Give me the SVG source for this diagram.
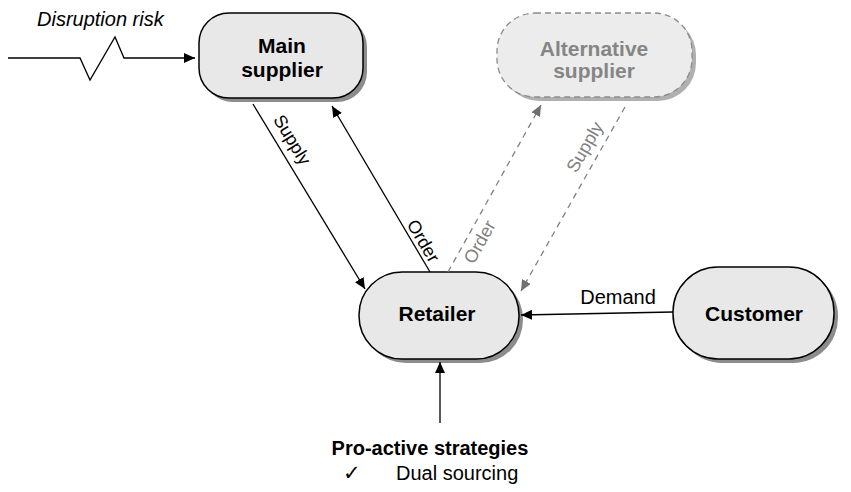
<svg xmlns="http://www.w3.org/2000/svg" width="851" height="492" viewBox="0 0 851 492">
  <style>
    text { font-family: "Liberation Sans", Arial, sans-serif; fill: #000; }
    .node { fill: #e8e8e8; stroke: #000; stroke-width: 1.5; }
    .shadow { fill: #8c8c8c; stroke: none; }
    .alt { fill: #ececec; stroke: #8c8c8c; stroke-width: 1.3; stroke-dasharray: 6 4; }
    .altshadow { fill: #b0b0b0; stroke: none; }
    .label { font-size: 21px; font-weight: bold; text-anchor: middle; }
    .altlabel { font-size: 21px; font-weight: bold; text-anchor: middle; fill: #858585; }
    .edge { fill: none; stroke: #000; stroke-width: 1.3; }
    .dashed { fill: none; stroke: #808080; stroke-width: 1.3; stroke-dasharray: 6 5; }
    .elabel { font-size: 18px; text-anchor: middle; }
    .glabel { font-size: 18px; text-anchor: middle; fill: #808080; }
  </style>
  <defs>
    <marker id="arrow" markerUnits="userSpaceOnUse" markerWidth="12" markerHeight="10" refX="11" refY="5" orient="auto">
      <path d="M0,0 L11,5 L0,10 z" fill="#000"/>
    </marker>
    <marker id="arrowGray" markerUnits="userSpaceOnUse" markerWidth="12" markerHeight="10" refX="11" refY="5" orient="auto">
      <path d="M0,0 L11,5 L0,10 z" fill="#707070"/>
    </marker>
  </defs>

  <!-- nodes -->
  <g id="main-supplier">
    <rect class="shadow" x="203" y="17" width="164" height="85" rx="30"/>
    <rect class="node" x="199" y="13" width="164" height="85" rx="30"/>
    <text class="label" x="282" y="53">Main</text>
    <text class="label" x="282" y="77">supplier</text>
  </g>

  <g id="alternative-supplier">
    <rect class="altshadow" x="501" y="17" width="195" height="84" rx="38"/>
    <rect class="alt" x="497" y="13" width="195" height="84" rx="38"/>
    <text class="altlabel" x="594" y="56">Alternative</text>
    <text class="altlabel" x="594" y="78">supplier</text>
  </g>

  <g id="retailer">
    <rect class="shadow" x="363" y="276" width="160" height="87" rx="43"/>
    <rect class="node" x="359" y="272" width="160" height="87" rx="43"/>
    <text class="label" x="437" y="321">Retailer</text>
  </g>

  <g id="customer">
    <rect class="shadow" x="677" y="271" width="161" height="92" rx="45"/>
    <rect class="node" x="673" y="267" width="161" height="92" rx="45"/>
    <text class="label" x="754" y="321">Customer</text>
  </g>

  <!-- connectors -->
  <g id="connectors">
    <!-- disruption risk feeding the main supplier -->
    <polyline class="edge" points="8,58 80,58 90,80 115,37 124,58 195,58" marker-end="url(#arrow)"/>
    <text x="37" y="26" style="font-size:20px; font-style:italic;">Disruption risk</text>

    <!-- main supplier <-> retailer -->
    <line class="edge" x1="253" y1="104" x2="365" y2="289" marker-end="url(#arrow)"/>
    <text class="elabel" transform="translate(287,143) rotate(58.7)">Supply</text>

    <line class="edge" x1="430" y1="272" x2="332" y2="106" marker-end="url(#arrow)"/>
    <text class="elabel" transform="translate(418,244) rotate(59.5)">Order</text>

    <!-- alternative supplier <-> retailer (dashed) -->
    <line class="dashed" x1="448" y1="272" x2="541" y2="105" marker-end="url(#arrowGray)"/>
    <text class="glabel" transform="translate(485,245) rotate(-61)">Order</text>

    <line class="dashed" x1="625" y1="107" x2="521" y2="291" marker-end="url(#arrowGray)"/>
    <text class="glabel" transform="translate(590,150) rotate(-60)">Supply</text>

    <!-- customer demand -->
    <line class="edge" x1="673" y1="312" x2="521" y2="315" marker-end="url(#arrow)"/>
    <text x="618" y="304" style="font-size:20px; text-anchor:middle;">Demand</text>

    <!-- strategies feeding the retailer -->
    <line class="edge" x1="440" y1="423" x2="440" y2="362" marker-end="url(#arrow)"/>
  </g>

  <g id="strategies">
    <text x="430" y="455" style="font-size:20px; font-weight:bold; text-anchor:middle;">Pro-active strategies</text>
    <text x="343" y="480" style="font-size:21px; font-family:'DejaVu Sans', sans-serif;">✓</text>
    <text x="396" y="480" style="font-size:20px;">Dual sourcing</text>
  </g>
</svg>
